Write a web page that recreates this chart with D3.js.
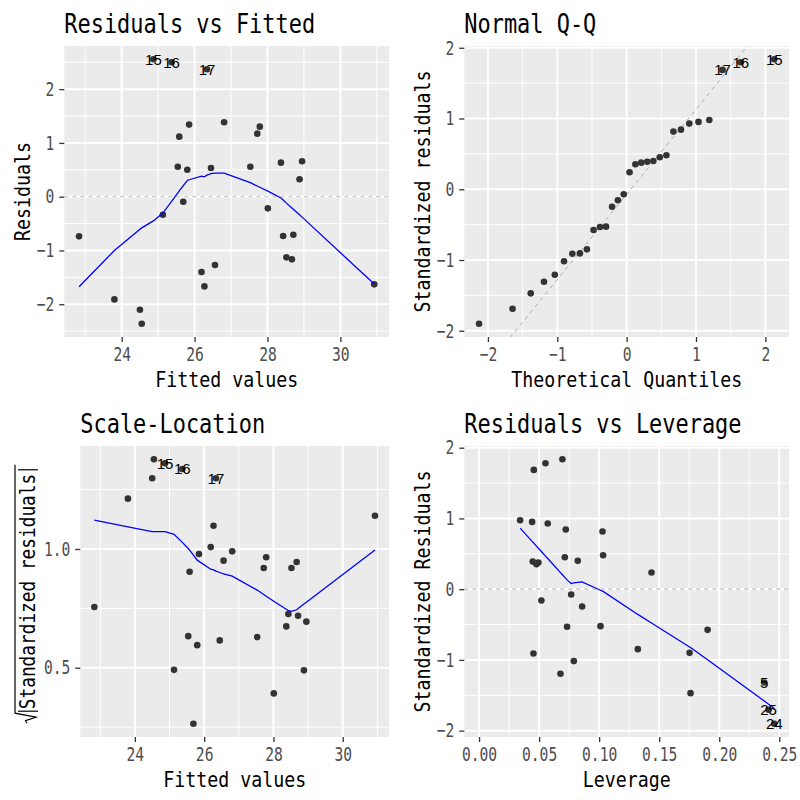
<!DOCTYPE html>
<html><head><meta charset="utf-8">
<script src="https://cdn.jsdelivr.net/npm/d3@7"></script>
<style>body{margin:0;background:#fff}</style>
</head><body>
<svg id="c" width="800" height="800"></svg>
<script>
// ---------- Residuals vs Fitted ----------
const fittedVals = [22.83,23.80,24.50,24.55,24.87,25.13,25.37,25.54,25.58,25.69,25.80,25.85,26.19,26.27,26.34,26.45,26.56,26.81,27.53,27.72,27.79,28.01,28.37,28.43,28.52,28.67,28.71,28.88,28.95,30.93];
const residVals = [-0.737,-1.910,-2.103,-2.363,2.556,-0.335,2.500,0.558,1.116,-0.093,0.502,1.340,-1.401,-1.668,2.370,0.533,-1.271,1.384,0.558,1.172,1.302,-0.217,0.633,-0.731,-1.128,-1.165,-0.707,0.323,0.658,-1.630];
const rvfSmooth = [-1.674,-1.000,-0.607,-0.580,-0.450,-0.305,-0.087,0.069,0.106,0.206,0.300,0.315,0.383,0.370,0.400,0.430,0.440,0.440,0.261,0.198,0.175,0.102,-0.024,-0.060,-0.120,-0.210,-0.234,-0.336,-0.380,-1.625];
const rvfLabelIndex = [4,6,14];
const rvfLabelText = ["15","16","17"];
const rvfXTicks = [24,26,28,30];
const rvfYTicks = [-2,-1,0,1,2];

// ---------- Normal Q-Q ----------
const qqTheoretical = [-2.128,-1.645,-1.383,-1.192,-1.036,-0.903,-0.783,-0.674,-0.573,-0.477,-0.385,-0.297,-0.210,-0.126,-0.042,0.042,0.126,0.210,0.297,0.385,0.477,0.573,0.674,0.783,0.903,1.036,1.192,1.383,1.645,2.128];
const qqSample = [-1.901,-1.689,-1.471,-1.307,-1.208,-1.018,-0.911,-0.906,-0.849,-0.576,-0.533,-0.528,-0.246,-0.156,-0.071,0.240,0.353,0.376,0.390,0.400,0.452,0.480,0.815,0.843,0.928,0.952,0.980,1.687,1.796,1.838];
const qqLineSlope = 1.203;
const qqLineIntercept = -0.073;
const qqLabelIndex = [27,28,29];
const qqLabelText = ["17","16","15"];
const qqXTicks = [-2,-1,0,1,2];
const qqYTicks = [-2,-1,0,1,2];

// ---------- Scale-Location ----------
const sqrtStdResid = [0.756,1.212,1.298,1.378,1.361,0.491,1.337,0.633,0.904,0.264,0.595,0.979,1.008,1.098,1.298,0.615,0.951,0.990,0.629,0.920,0.965,0.392,0.674,0.726,0.920,0.945,0.719,0.489,0.694,1.140];
const slSmooth = [1.122,1.093,1.073,1.073,1.073,1.062,1.028,1.002,0.995,0.974,0.953,0.948,0.915,0.912,0.907,0.901,0.895,0.886,0.827,0.808,0.801,0.780,0.746,0.740,0.737,0.744,0.749,0.768,0.776,0.996];
const slLabelIndex = [4,6,14];
const slLabelText = ["15","16","17"];
const slXTicks = [24,26,28,30];
const slYTicks = [0.5,1.0];

// ---------- Residuals vs Leverage ----------
const leverage = [0.0342,0.0442,0.0456,0.0447,0.0478,0.0494,0.0453,0.0519,0.0553,0.0572,0.0678,0.0694,0.0714,0.0722,0.0733,0.0767,0.0789,0.0822,0.0858,0.1011,0.1028,0.1033,0.1322,0.1436,0.1753,0.1761,0.1903,0.2375,0.2411,0.2458];
const levStdResid = [0.975,0.951,1.686,0.390,0.353,0.376,-0.909,-0.160,1.780,0.928,-1.196,1.837,0.452,0.843,-0.532,-0.075,-1.017,0.400,-0.245,-0.523,0.815,0.480,-0.848,0.236,-0.900,-1.470,-0.575,-1.319,-1.705,-1.903];
const levSmoothX = [0.0342,0.0442,0.0447,0.0453,0.0456,0.0478,0.0494,0.0519,0.0553,0.0572,0.0678,0.0694,0.0714,0.0722,0.0733,0.0767,0.0789,0.0822,0.0858,0.1011,0.1028,0.1033,0.1322,0.1436,0.1753,0.1761,0.1903,0.2375,0.2411,0.2458];
const levSmoothY = [0.863,0.676,0.666,0.655,0.650,0.608,0.578,0.532,0.468,0.433,0.234,0.204,0.167,0.152,0.131,0.080,0.090,0.097,0.103,-0.015,-0.028,-0.032,-0.357,-0.479,-0.817,-0.826,-0.999,-1.581,-1.626,-1.684];
const levLabelIndex = [27,28,29];
const levLabelText = ["5","25","24"];
const levXTicks = [0,0.05,0.10,0.15,0.20,0.25];
const levYTicks = [-2,-1,0,1,2];

// ---------- drawing ----------
const svg = d3.select("#c");
const MONO = "'DejaVu Sans Mono', monospace";
const minus = s => s.replace("-", "\u2212");

function mono(sel, size, adv) {
  const a = adv || size * 0.5;
  sel.attr("font-family", MONO).attr("font-size", size)
     .attr("lengthAdjust", "spacingAndGlyphs")
     .attr("textLength", function () { return this.textContent.length * a; });
}
function expand(ext, includeZero) {
  let a = ext[0], b = ext[1];
  if (includeZero) a = Math.min(a, 0);
  const d = (b - a) * 0.05;
  return [a - d, b + d];
}
function minorsOf(majors, dom) {
  const step = majors[1] - majors[0];
  const out = [majors[0] - step / 2];
  for (let i = 0; i < majors.length - 1; i++) out.push((majors[i] + majors[i + 1]) / 2);
  out.push(majors[majors.length - 1] + step / 2);
  return out.filter(v => v >= dom[0] && v <= dom[1]);
}

let clipId = 0;
function panel(cfg) {
  const g = svg.append("g").attr("transform", `translate(${cfg.ox},${cfg.oy})`);
  const L = cfg.left, T = 46, R = 389, B = 337;
  const x = d3.scaleLinear().domain(cfg.xDomain).range([L, R]);
  const y = d3.scaleLinear().domain(cfg.yDomain).range([B, T]);
  const id = "clip" + (clipId++);
  g.append("clipPath").attr("id", id).append("rect")
    .attr("x", L).attr("y", T).attr("width", R - L).attr("height", B - T);

  g.append("rect").attr("x", L).attr("y", T).attr("width", R - L).attr("height", B - T).attr("fill", "#EBEBEB");

  const grid = g.append("g");
  minorsOf(cfg.xTicks, cfg.xDomain).forEach(v => grid.append("line")
    .attr("x1", x(v)).attr("x2", x(v)).attr("y1", T).attr("y2", B).attr("stroke", "#fff").attr("stroke-width", 1));
  minorsOf(cfg.yTicks, cfg.yDomain).forEach(v => grid.append("line")
    .attr("y1", y(v)).attr("y2", y(v)).attr("x1", L).attr("x2", R).attr("stroke", "#fff").attr("stroke-width", 1));
  cfg.xTicks.forEach(v => grid.append("line")
    .attr("x1", x(v)).attr("x2", x(v)).attr("y1", T).attr("y2", B).attr("stroke", "#fff").attr("stroke-width", 2));
  cfg.yTicks.forEach(v => grid.append("line")
    .attr("y1", y(v)).attr("y2", y(v)).attr("x1", L).attr("x2", R).attr("stroke", "#fff").attr("stroke-width", 2));

  const plot = g.append("g").attr("clip-path", `url(#${id})`);
  if (cfg.zeroLine) {
    plot.append("line").attr("x1", L).attr("x2", R).attr("y1", y(0)).attr("y2", y(0))
      .attr("stroke", "#BBBBBB").attr("stroke-width", 1.1).attr("stroke-dasharray", "4,4");
  }
  if (cfg.abLine) {
    const [m, c] = cfg.abLine;
    plot.append("line")
      .attr("x1", x(cfg.xDomain[0])).attr("y1", y(c + m * cfg.xDomain[0]))
      .attr("x2", x(cfg.xDomain[1])).attr("y2", y(c + m * cfg.xDomain[1]))
      .attr("stroke", "#AAAAAA").attr("stroke-width", 1).attr("stroke-dasharray", "4,4");
  }
  plot.selectAll("circle").data(cfg.xs).join("circle")
    .attr("cx", d => x(d)).attr("cy", (d, i) => y(cfg.ys[i])).attr("r", 3.3).attr("fill", "#333333");
  if (cfg.smoothX) {
    const pts = cfg.smoothX.map((v, i) => [v, cfg.smoothY[i]]).sort((a, b) => a[0] - b[0]);
    plot.append("path").attr("d", d3.line().x(d => x(d[0])).y(d => y(d[1]))(pts))
      .attr("fill", "none").attr("stroke", "#0000FF").attr("stroke-width", 1.3);
  }
  cfg.labelIndex.forEach((idx, k) => {
    g.append("text").attr("x", x(cfg.xs[idx])).attr("y", y(cfg.ys[idx])).attr("dy", "0.36em")
      .attr("text-anchor", "middle").attr("font-family", "'Liberation Sans', Arial, sans-serif")
      .attr("font-size", 15).attr("fill", "#000").text(cfg.labelText[k]);
  });

  // axes
  const ax = g.append("g").attr("transform", `translate(0,${B})`)
    .call(d3.axisBottom(x).tickValues(cfg.xTicks).tickSize(5).tickSizeOuter(0).tickPadding(5)
      .tickFormat(d => minus(cfg.xFormat(d))));
  const ay = g.append("g").attr("transform", `translate(${L},0)`)
    .call(d3.axisLeft(y).tickValues(cfg.yTicks).tickSize(5).tickSizeOuter(0).tickPadding(5)
      .tickFormat(d => minus(cfg.yFormat(d))));
  [ax, ay].forEach(a => {
    a.select(".domain").remove();
    a.selectAll(".tick line").attr("stroke", "#333333").attr("stroke-width", 1.3);
    a.selectAll(".tick text").attr("fill", "#4D4D4D").call(mono, 19.5, 8.8);
  });

  // titles
  g.append("text").attr("x", L).attr("y", 33.3).attr("fill", "#000").text(cfg.title).call(mono, 26.4);
  g.append("text").attr("x", (L + R) / 2).attr("y", 386.7).attr("text-anchor", "middle")
    .attr("fill", "#000").text(cfg.xTitle).call(mono, 22);
  const cy = (T + B) / 2;
  if (!cfg.sqrtYTitle) {
    g.append("text").attr("transform", `translate(30,${cy}) rotate(-90)`).attr("text-anchor", "middle")
      .attr("fill", "#000").text(cfg.yTitle).call(mono, 22);
  } else {
    const yt = g.append("g").attr("transform", `translate(35,${cy}) rotate(-90)`);
    yt.append("text").attr("x", 0).attr("y", 0).attr("text-anchor", "middle")
      .attr("fill", "#000").text(cfg.yTitle).call(mono, 21.4);
    const half = cfg.yTitle.length * 21.4 * 0.25;
    yt.append("path")
      .attr("d", `M${-half - 14},-8 L${-half - 11.5},-9.5 L${-half - 8},1 L${-half - 4},-20 L${half + 9},-20`)
      .attr("fill", "none").attr("stroke", "#000").attr("stroke-width", 1.2);
    yt.append("line").attr("x1", -half - 2).attr("x2", -half - 2).attr("y1", -17).attr("y2", 3)
      .attr("stroke", "#000").attr("stroke-width", 1.2);
    yt.append("line").attr("x1", half + 4).attr("x2", half + 4).attr("y1", -17).attr("y2", 3)
      .attr("stroke", "#000").attr("stroke-width", 1.2);
  }
}

const fmtInt = d3.format("d");
panel({
  ox: 0, oy: 0, left: 64.3, title: "Residuals vs Fitted", xTitle: "Fitted values", yTitle: "Residuals",
  xs: fittedVals, ys: residVals, smoothX: fittedVals, smoothY: rvfSmooth,
  xDomain: expand(d3.extent(fittedVals)), yDomain: expand(d3.extent(residVals)),
  xTicks: rvfXTicks, yTicks: rvfYTicks, xFormat: fmtInt, yFormat: fmtInt,
  zeroLine: true, labelIndex: rvfLabelIndex, labelText: rvfLabelText
});
panel({
  ox: 400, oy: 0, left: 64.3, title: "Normal Q-Q", xTitle: "Theoretical Quantiles", yTitle: "Standardized residuals",
  xs: qqTheoretical, ys: qqSample,
  xDomain: expand(d3.extent(qqTheoretical)), yDomain: expand(d3.extent(qqSample)),
  xTicks: qqXTicks, yTicks: qqYTicks, xFormat: fmtInt, yFormat: fmtInt,
  abLine: [qqLineSlope, qqLineIntercept], labelIndex: qqLabelIndex, labelText: qqLabelText
});
panel({
  ox: 0, oy: 400, left: 80.3, title: "Scale-Location", xTitle: "Fitted values", yTitle: "Standardized residuals",
  sqrtYTitle: true,
  xs: fittedVals, ys: sqrtStdResid, smoothX: fittedVals, smoothY: slSmooth,
  xDomain: expand(d3.extent(fittedVals)), yDomain: expand(d3.extent(sqrtStdResid)),
  xTicks: slXTicks, yTicks: slYTicks, xFormat: fmtInt, yFormat: d3.format(".1f"),
  labelIndex: slLabelIndex, labelText: slLabelText
});
panel({
  ox: 400, oy: 400, left: 64.3, title: "Residuals vs Leverage", xTitle: "Leverage", yTitle: "Standardized Residuals",
  xs: leverage, ys: levStdResid, smoothX: levSmoothX, smoothY: levSmoothY,
  xDomain: expand(d3.extent(leverage), true), yDomain: expand(d3.extent(levStdResid)),
  xTicks: levXTicks, yTicks: levYTicks, xFormat: d3.format(".2f"), yFormat: fmtInt,
  zeroLine: true, labelIndex: levLabelIndex, labelText: levLabelText
});
</script>
</body></html>
